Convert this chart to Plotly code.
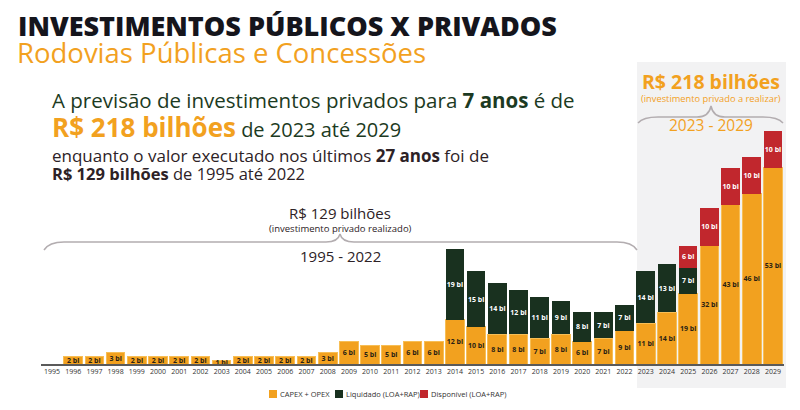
import plotly.graph_objects as go

years = [str(y) for y in range(1995, 2030)]
capex = [None, 2, 2, 3, 2, 2, 2, 2, 1, 2, 2, 2, 2, 3, 6, 5, 5, 6, 6,
         12, 10, 8, 8, 7, 8, 6, 7, 9,
         11, 14, 19, 32, 43, 46, 53]
liquidado = [None] * 19 + [19, 15, 14, 12, 11, 9, 8, 7, 7, 14, 13, 7] + [None] * 4
disponivel = [None] * 30 + [6, 10, 10, 10, 10]
series_names = ["CAPEX + OPEX", "Liquidado (LOA+RAP)", "Disponível (LOA+RAP)"]

ORANGE = "#F2A11F"
GREEN = "#19311F"
RED = "#C1272D"
DKGREEN = "#1c3a22"
DARK = "#2d2226"
FONT = "Open Sans"
series_colors = [ORANGE, GREEN, RED]

W, H = 800, 410
OFF = 8  # page body margin offset of the rendered figure
PX_PER_UNIT = 3.703
BASE_Y = 364


def px(x):
    return (x - OFF) / W


def py(y):
    return 1 - (y - OFF) / H


def labels(vals):
    return [f"{v} bi" if v else "" for v in vals]


fig = go.Figure()
for vals, name, col, tcol in zip([capex, liquidado, disponivel], series_names,
                                 series_colors, ["#2a1f14", "white", "white"]):
    fig.add_trace(go.Bar(
        x=years, y=vals, name=name,
        marker=dict(color=col, line=dict(color="#F7BE55" if col == ORANGE else col,
                                         width=1 if col == ORANGE else 0)),
        text=labels(vals), textposition="inside", insidetextanchor="middle",
        textangle=0, constraintext="none",
        textfont=dict(family=FONT, size=7, color=tcol, weight="bold"),
        showlegend=False,
    ))


def brace(x0, x1, ymid, yend, ypeak, xc):
    pts = [
        f"M {px(x0)},{py(yend)}",
        f"Q {px(x0 + 5)},{py(ymid)} {px(x0 + 20)},{py(ymid)}",
        f"L {px(xc - 14)},{py(ymid)}",
        f"Q {px(xc - 2)},{py(ymid)} {px(xc)},{py(ypeak)}",
        f"Q {px(xc + 2)},{py(ymid)} {px(xc + 14)},{py(ymid)}",
        f"L {px(x1 - 20)},{py(ymid)}",
        f"Q {px(x1 - 5)},{py(ymid)} {px(x1)},{py(yend)}",
    ]
    return " ".join(pts)


shapes = [
    dict(type="rect", xref="paper", yref="paper", x0=px(637), x1=px(786),
         y0=py(388), y1=py(62), fillcolor="#f2f2f3", line=dict(width=0), layer="below"),
    dict(type="path", xref="paper", yref="paper",
         path=brace(44, 637, 242, 250, 234, 340),
         line=dict(color="#b3adb0", width=1.5)),
    dict(type="path", xref="paper", yref="paper",
         path=brace(638, 783, 117, 123, 106, 711),
         line=dict(color="#b3adb0", width=1.5)),
]

ann = []


def add(text, x, y, size, color, xanchor="left", weight="normal", family=FONT):
    ann.append(dict(text=text, x=px(x), y=py(y), xref="paper", yref="paper",
                    xanchor=xanchor, yanchor="middle", showarrow=False,
                    font=dict(family=family, size=size, color=color, weight=weight)))


add("INVESTIMENTOS PÚBLICOS X PRIVADOS", 16, 25.5, 27, "#15151c", weight=900)
add("Rodovias Públicas e Concessões", 15, 53, 27.5, ORANGE)
add("A previsão de investimentos privados para <b>7 anos</b> é de", 50, 100, 20.5, DKGREEN)
add(f"<span style='font-size:26px;color:{ORANGE}'><b>R$ 218 bilhões</b></span> de 2023 até 2029",
    50, 127, 20, DKGREEN)
add("enquanto o valor executado nos últimos <b>27 anos</b> foi de", 50, 155, 17, DARK)
add("<b>R$ 129 bilhões</b> de 1995 até 2022", 50, 173, 16.5, DARK)

add("R$ 129 bilhões", 340, 213, 15, DARK, xanchor="center")
add("(investimento privado realizado)", 340, 228, 9.5, DARK, xanchor="center")
add("1995 - 2022", 340, 256, 15, DARK, xanchor="center")

add("<b>R$ 218 bilhões</b>", 711, 82, 19.5, ORANGE, xanchor="center")
add("(investimento privado a realizar)", 711, 99, 9.3, ORANGE, xanchor="center")
add("2023 - 2029", 711, 125, 15.5, ORANGE, xanchor="center")

# legend (manual, compact like the reference)
leg_x = [269, 335, 420]
for lx, name, col in zip(leg_x, series_names, series_colors):
    shapes.append(dict(type="rect", xref="paper", yref="paper",
                       x0=px(lx), x1=px(lx + 8), y0=py(398), y1=py(390),
                       fillcolor=col, line=dict(width=0)))
    add(name, lx + 9, 394, 7.5, "#333")

fig.update_layout(
    width=W, height=H,
    margin=dict(l=0, r=0, t=0, b=0),
    paper_bgcolor="white", plot_bgcolor="rgba(0,0,0,0)",
    barmode="stack", bargap=0.12,
    font=dict(family=FONT, color=DARK),
    showlegend=False,
    xaxis=dict(domain=[px(41.4), px(783.6)], type="category", showline=True,
               linecolor="#5a5a5a", linewidth=1.5, ticks="", showgrid=False,
               tickfont=dict(family=FONT, size=7, color="#333"), tickangle=0,
               fixedrange=True),
    yaxis=dict(domain=[py(BASE_Y), 1], range=[0, (BASE_Y - OFF) / PX_PER_UNIT],
               visible=False, showgrid=False, fixedrange=True),
    shapes=shapes,
    annotations=ann,
)

fig.write_html("out.html")
